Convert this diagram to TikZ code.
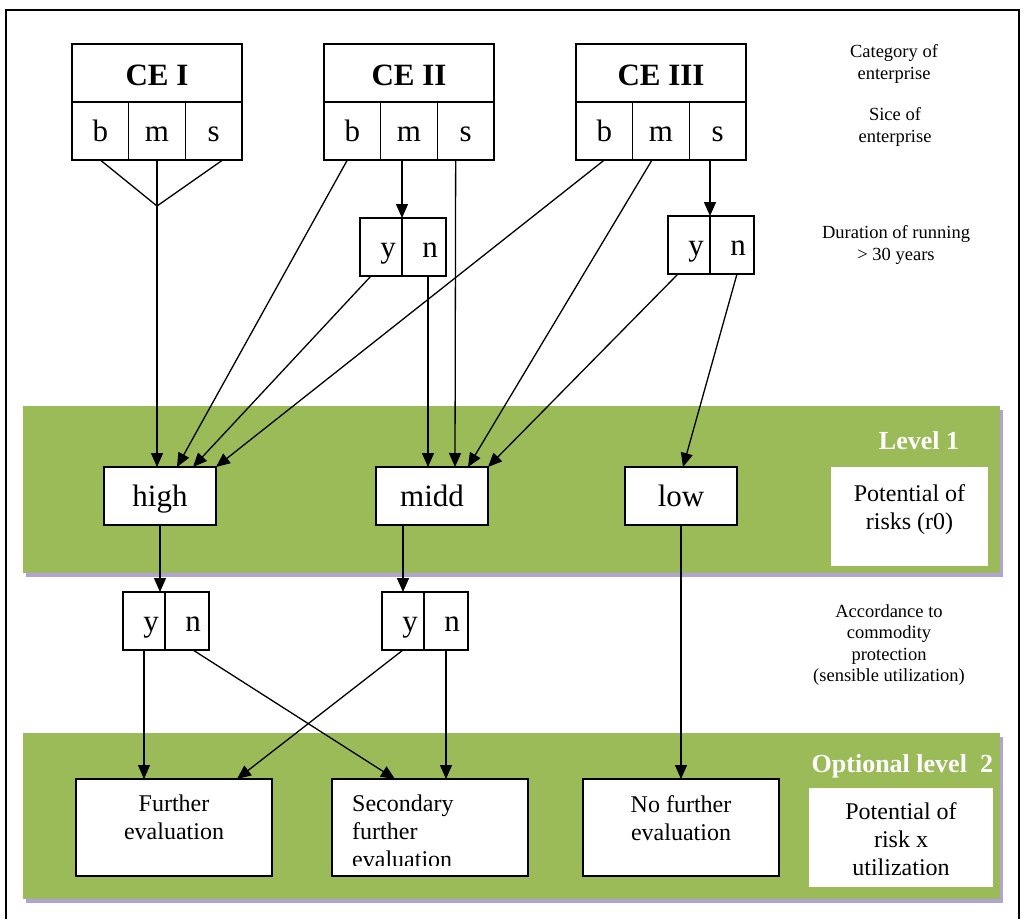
\documentclass[tikz,border=0pt]{standalone}
\usepackage{fontspec}
\setmainfont{Liberation Serif}
\usepackage{tikz}
\usetikzlibrary{positioning,arrows.meta}
\definecolor{lvlgreen}{HTML}{9BBB59}
\definecolor{lvlshadow}{HTML}{B3A2D5}
\newcommand{\ceblock}[3]{%
  \node[cehead, anchor=north west] (#1) at (#2,44) {#3};
  \node[cell, minimum width=56.67, anchor=north west] (#1b) at (#1.south west) {b};
  \node[cell, minimum width=56.67, anchor=north west] (#1m) at (#1b.north east) {m};
  \node[cell, minimum width=56.67, anchor=north west] (#1s) at (#1m.north east) {s};
}
\newcommand{\ynbox}[3]{%
  \node[cell, minimum width=42, anchor=north west] (#1y) at (#2,#3) {\hspace*{14pt}y};
  \node[cell, minimum width=44, anchor=north west] (#1n) at (#1y.north east) {\hspace*{12pt}n};
}

\begin{document}
\begin{tikzpicture}[x=1pt, y=-1pt,
  plainbox/.style={draw, line width=1.6pt, outer sep=0pt, inner sep=0pt, fill=white},
  cehead/.style={plainbox, minimum width=170, minimum height=58, text height=24, text depth=0, font=\bfseries\fontsize{31}{36}\selectfont},
  cell/.style={plainbox, minimum height=58, text height=22, text depth=1, font=\fontsize{31}{36}\selectfont},
  outbox/.style={plainbox, minimum width=196, minimum height=97},
  sidebox/.style={fill=white, minimum height=99, outer sep=0pt},
  boxtext/.style={font=\fontsize{24}{28}\selectfont, align=center, inner sep=0pt},
  note/.style={font=\fontsize{18.5}{21.5}\selectfont, align=center, inner sep=0pt},
  lvltext/.style={font=\bfseries\fontsize{26}{30}\selectfont, text=white, inner sep=0pt},
  link/.style={line width=1.3pt},
  arr/.style={link, -{Triangle[length=14pt, width=12pt]}}]
  \useasboundingbox (0,0) rectangle (1023,919);
  % frame
  \draw[line width=2.4pt] (6,919) -- (6,10) -- (1019,10) -- (1019,919);
  % level bands
  \foreach \ya/\yb in {406/573, 733/899}{
    \fill[lvlshadow] (26,\ya+4) rectangle (1003,\yb+4);
    \fill[lvlgreen] (23,\ya) rectangle (1000,\yb);
  }
  % category and size of enterprise
  \ceblock{ceI}{72}{CE I}
  \ceblock{ceII}{324}{CE II}
  \ceblock{ceIII}{576}{CE III}
  % duration of running
  \ynbox{ynII}{360}{218}
  \ynbox{ynIII}{668}{216}
  % level 1
  \node[cell, minimum width=112] (high) at (160,496) {high};
  \node[cell, minimum width=112] (midd) at (432,496) {midd};
  \node[cell, minimum width=112] (low) at (681,496) {low};
  \node[lvltext, anchor=base] (lvlone) at (919,449) {Level 1};
  \node[sidebox, minimum width=157] (rzero) at (909.5,516.5) {};
  \node[boxtext, below=17pt of rzero.north] (rzerotxt) {Potential of\\risks (r0)};
  % commodity protection
  \ynbox{ynA}{123}{592}
  \ynbox{ynB}{382}{592}
  % optional level 2
  \node[lvltext, anchor=base west] (lvltwo) at (811.5,772.7) {Optional level\hspace{13pt}2};
  \node[outbox] (fur) at (174,827.5) {};
  \node[boxtext, below=16pt of fur.north] (furtxt) {Further\\evaluation};
  \node[outbox] (sec) at (430,827.5) {};
  \begin{scope}
    \clip (sec.north west) rectangle ([yshift=11]sec.south east);
    \node[boxtext, align=left, anchor=north west] (sectxt) at ([xshift=20,yshift=-16]sec.north west) {Secondary\\further\\evaluation};
  \end{scope}
  \node[outbox] (nof) at (681,827.5) {};
  \node[boxtext, below=16pt of nof.north] (noftxt) {No further\\evaluation};
  \node[sidebox, minimum width=184] (rx) at (901,837.5) {};
  \node[boxtext, below=14pt of rx.north] (rxtxt) {Potential of\\risk x\\utilization};
  % notes
  \node[note] (catnote) at (894,64) {Category of\\enterprise};
  \node[note] (sicenote) at (895,127) {Sice of\\enterprise};
  \node[note] (durnote) at (896,245) {Duration of running\\> 30 years};
  \node[note] (accnote) at (889,645) {Accordance to\\commodity\\protection\\(sensible utilization)};
  % CE I fork
  \coordinate (forkI) at ([yshift=-46]ceIm.south);
  \draw[link] (ceIb.south) -- (forkI) -- ([xshift=9]ceIs.south);
  \draw[arr] (ceIm.south) -- (ceIm.south |- high.north);
  % into duration boxes
  \draw[arr] (ceIIm.south -| ynIIy.north east) -- (ynIIy.north east);
  \draw[arr] (ceIIIs.south -| ynIIIy.north east) -- (ynIIIy.north east);
  % into level 1
  \draw[arr] ([xshift=-5]ceIIb.south) -- ([xshift=17]high.north);
  \draw[arr] ([xshift=-10]ynIIy.south) -- ([xshift=33]high.north);
  \draw[arr] (ceIIIb.south) -- (high.north east);
  \draw[arr] ([xshift=4]ynIIn.south) -- ([xshift=-4]midd.north);
  \draw[arr] ([xshift=-10]ceIIs.south) -- ([xshift=23]midd.north);
  \draw[arr] ([xshift=-9]ceIIIm.south) -- ([xshift=36]midd.north);
  \draw[arr] ([xshift=-11]ynIIIy.south) -- (midd.north east);
  \draw[arr] ([xshift=5]ynIIIn.south) -- ([xshift=2]low.north);
  % below level 1
  \draw[arr] (high.south) -- (high.south |- ynAy.north);
  \draw[arr] (ynBy.north |- midd.south) -- (ynBy.north);
  \draw[arr] (low.south) -- (nof.north);
  % into level 2
  \draw[arr] (ynAy.south) -- (ynAy.south |- fur.north);
  \draw[arr] ([xshift=6]ynAn.south) -- ([xshift=-35]sec.north);
  \draw[arr] (ynBy.south) -- ([xshift=63]fur.north);
  \draw[arr] (ynBn.south) -- (ynBn.south |- sec.north);
\end{tikzpicture}
\end{document}
